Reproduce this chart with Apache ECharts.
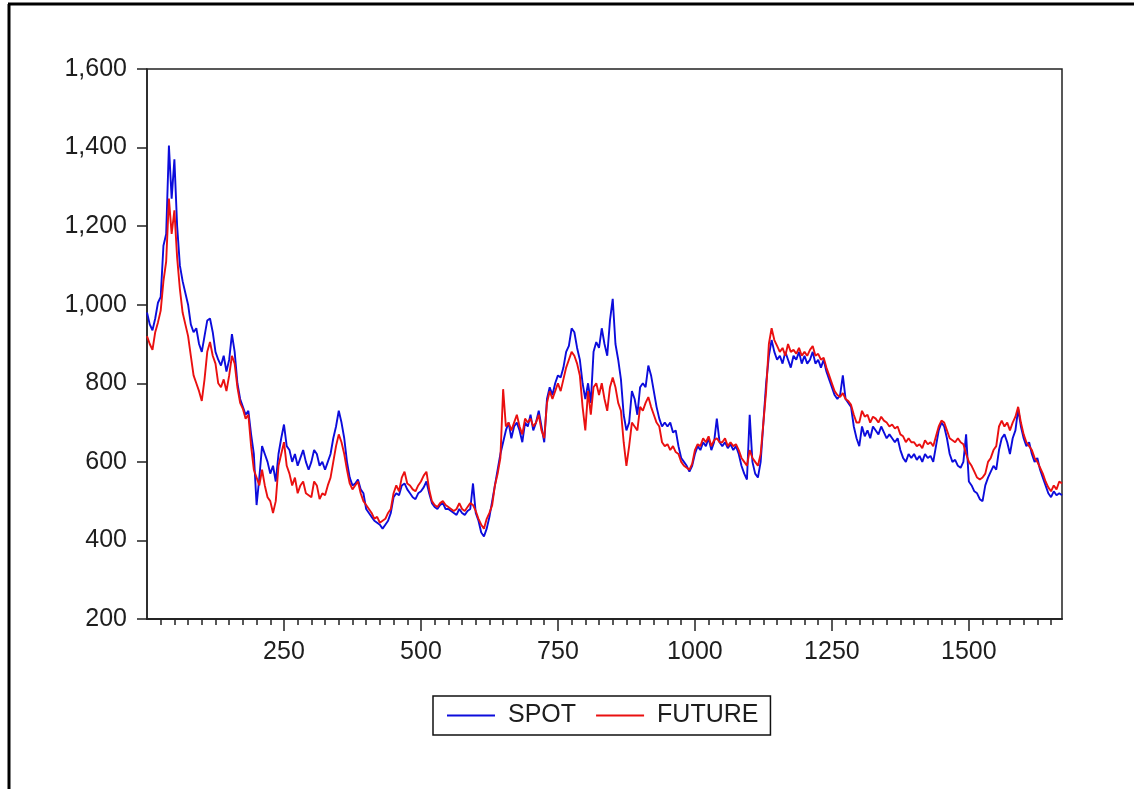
<!DOCTYPE html>
<html>
<head>
<meta charset="utf-8">
<script src="https://cdn.jsdelivr.net/npm/echarts@6/dist/echarts.min.js"></script>
<style>
html,body{margin:0;padding:0;background:#fff;}
#chart{width:1134px;height:789px;}
</style>
</head>
<body>
<div id="chart"></div>
<script>
// Observations are sampled every 5 periods, starting at period 0
const sampleStep = 5;

const spot = [
980,950,935,965,1005,1020,1150,1180,1405,1270,
1370,1200,1100,1060,1030,1000,950,930,940,900,
880,920,960,965,930,880,860,845,870,830,
860,925,880,800,760,740,720,730,670,620,
490,560,640,620,600,570,590,550,620,660,
695,640,630,600,620,590,610,630,600,580,
600,630,620,590,600,580,600,620,660,690,
730,700,660,600,560,540,545,555,530,520,
480,470,460,450,445,440,430,440,450,470,
510,520,515,540,545,530,520,510,505,520,
525,535,550,520,495,485,480,490,495,480,
480,475,470,465,480,470,465,475,480,545,
470,450,420,410,430,460,500,540,580,620,
650,680,700,660,690,700,680,650,700,690,
720,680,700,730,690,650,760,790,770,800,
820,815,840,880,895,940,930,890,860,800,
760,800,750,880,905,890,940,900,870,960,
1015,900,860,810,720,680,700,780,760,720,
790,800,790,845,820,780,740,710,690,700,
690,700,675,680,640,610,600,590,575,590,
620,640,630,650,640,660,630,650,710,650,
640,650,635,645,630,640,620,590,570,555,
720,600,570,560,600,700,800,870,910,880,
860,870,850,880,860,840,870,860,880,850,
870,850,860,880,850,860,840,860,830,810,
790,770,760,770,820,760,750,740,690,660,
640,690,665,680,660,690,680,670,690,675,
660,670,660,650,660,630,610,600,620,610,
620,605,615,600,620,610,615,600,640,680,
700,690,660,620,600,605,590,585,600,670,
550,540,525,520,505,500,540,560,575,590,
580,630,660,670,650,620,660,680,735,690,
660,640,650,620,600,610,580,560,540,520,
510,525,515,520,515];

const future = [
920,900,885,930,955,985,1060,1110,1270,1180,
1240,1120,1040,980,950,920,870,820,800,780,
755,810,880,905,870,850,800,790,810,780,
820,870,850,790,750,735,710,720,640,580,
560,540,580,540,510,500,470,500,590,620,
650,590,570,540,560,520,540,550,520,515,
510,550,540,505,520,515,540,560,600,640,
670,650,620,580,545,530,540,550,520,500,
490,480,470,455,460,445,450,455,470,480,
520,540,525,560,575,545,540,530,525,540,
550,565,575,530,500,490,485,495,500,490,
485,480,475,480,495,480,475,485,495,490,
475,455,440,430,455,470,490,540,570,610,
785,690,700,680,700,720,690,670,710,700,
710,690,700,720,680,660,750,780,760,780,
800,780,810,840,860,880,870,850,820,740,
680,780,720,790,800,770,800,760,730,790,
815,790,750,730,650,590,640,700,690,680,
740,730,750,765,740,720,700,690,650,640,
645,630,640,625,620,600,590,585,580,595,
630,645,640,660,650,665,640,655,660,650,
650,660,640,650,640,645,630,610,600,590,
630,610,600,590,620,700,780,900,940,910,
895,880,890,870,900,880,885,875,890,870,
880,870,885,895,870,875,860,865,840,820,
800,780,770,765,775,760,755,745,720,700,
700,730,715,720,700,715,710,700,715,705,
700,690,695,685,690,670,665,650,660,650,
650,640,645,635,655,645,650,640,665,690,
705,700,680,660,655,650,660,650,645,620,
600,590,575,560,555,560,570,600,610,630,
640,690,705,690,700,680,700,715,740,700,
670,650,640,630,610,600,585,570,550,535,
525,540,530,550,545];

const seriesNames = ['SPOT', 'FUTURE'];
const yTickLabels = [200, 400, 600, 800, 1000, 1200, 1400, 1600];
const xTickLabels = [250, 500, 750, 1000, 1250, 1500];

const obs = spot.map((_, i) => i * sampleStep);

const minorTicks = [];
for (let v = 25; v <= 1650; v += 25) if (v % 250 !== 0) minorTicks.push(v);

const FONT = '"Liberation Sans", Arial, sans-serif';
const TXT = '#1e1e1e';
const AX = '#222';

const chart = echarts.init(document.getElementById('chart'), null, {renderer: 'canvas'});
const fmt = v => String(v).replace(/\B(?=(\d{3})+(?!\d))/g, ',');

const xBase = {
  type: 'value', min: 0, max: 1670, gridIndex: 0, position: 'bottom',
  splitLine: {show: false},
  axisLine: {show: true, onZero: false, lineStyle: {color: AX, width: 1.5}}
};

chart.setOption({
  backgroundColor: '#fff',
  animation: false,
  textStyle: {fontFamily: FONT},
  graphic: [
    {type: 'line', shape: {x1: 9, y1: 4, x2: 9, y2: 789}, style: {stroke: '#000', lineWidth: 3}},
    {type: 'line', shape: {x1: 8, y1: 4, x2: 1134, y2: 4}, style: {stroke: '#000', lineWidth: 3}}
  ],
  grid: {left: 147, right: 72, top: 69, bottom: 170, show: true, borderColor: AX, borderWidth: 1.5, backgroundColor: '#fff'},
  legend: {
    data: seriesNames.map(n => ({name: n, icon: 'rect'})),
    left: 433, top: 696,
    orient: 'horizontal',
    borderColor: '#111', borderWidth: 1.5,
    padding: [7, 12, 7, 14],
    itemWidth: 48, itemHeight: 2, itemGap: 20,
    itemStyle: {borderWidth: 0},
    textStyle: {fontSize: 25, color: TXT, fontFamily: FONT, padding: [0, 0, 0, 8]}
  },
  xAxis: [
    Object.assign({}, xBase, {
      axisTick: {show: true, length: 6, customValues: minorTicks, lineStyle: {color: AX, width: 1.5}},
      axisLabel: {show: false}
    }),
    Object.assign({}, xBase, {
      axisTick: {show: true, length: 12, customValues: xTickLabels, lineStyle: {color: AX, width: 1.5}},
      axisLabel: {show: true, customValues: xTickLabels, margin: 21, fontSize: 25, color: TXT, fontFamily: FONT,
        formatter: v => String(v)}
    })
  ],
  yAxis: {
    type: 'value', min: yTickLabels[0], max: yTickLabels[yTickLabels.length - 1], interval: 200,
    splitLine: {show: false},
    axisLine: {show: true, lineStyle: {color: AX, width: 1.5}},
    axisTick: {show: true, length: 10, lineStyle: {color: AX, width: 1.5}},
    axisLabel: {margin: 20, fontSize: 25, color: TXT, fontFamily: FONT, formatter: v => fmt(v)}
  },
  series: [
    {
      name: seriesNames[0], type: 'line', xAxisIndex: 0, yAxisIndex: 0,
      data: obs.map((x, i) => [x, spot[i]]),
      symbol: 'none', color: '#0c0cdc',
      lineStyle: {width: 1.9, color: '#0c0cdc'}
    },
    {
      name: seriesNames[1], type: 'line', xAxisIndex: 0, yAxisIndex: 0,
      data: obs.map((x, i) => [x, future[i]]),
      symbol: 'none', color: '#ea1010',
      lineStyle: {width: 1.9, color: '#ea1010'}
    }
  ]
});
</script>
</body>
</html>
